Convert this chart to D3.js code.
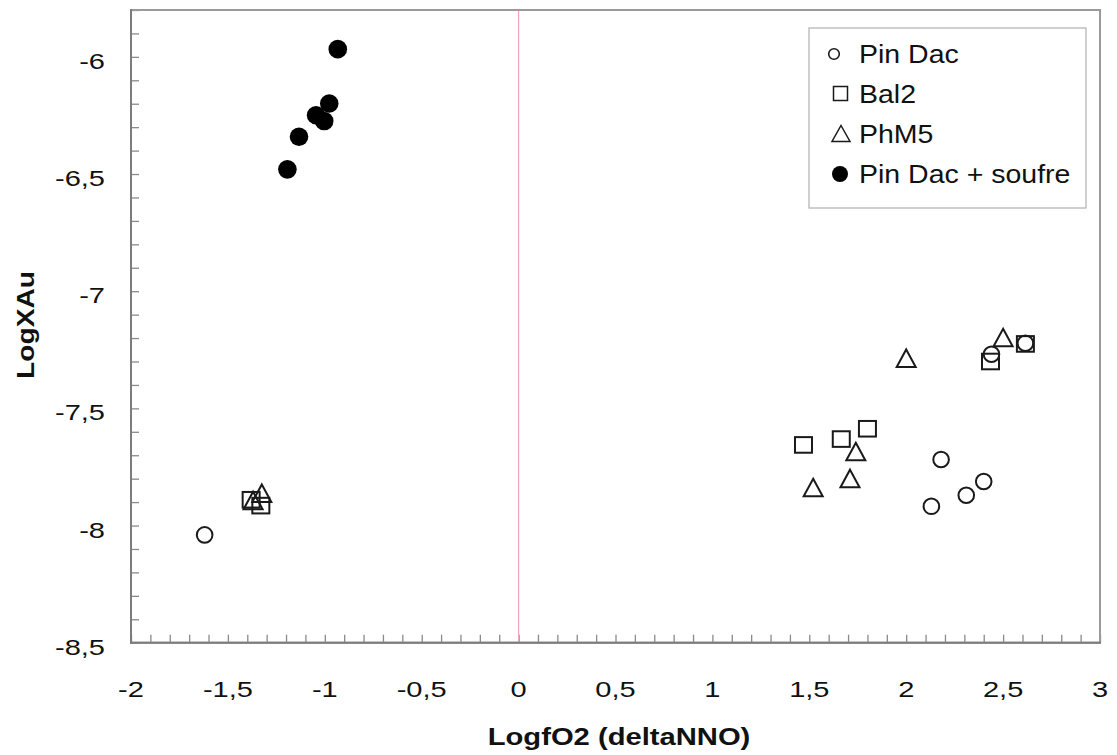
<!DOCTYPE html>
<html><head><meta charset="utf-8">
<script src="https://cdn.jsdelivr.net/npm/d3@7"></script>
<style>body{margin:0;background:#fff;} text{font-family:"Liberation Sans",Arial,sans-serif;fill:#111;}</style>
</head><body>
<svg id="c" width="1117" height="755"></svg>
<script>
// ---- data ----
const pinDacX = [-1.62, 2.18, 2.40, 2.31, 2.13, 2.44, 2.615];
const pinDacY = [-8.04, -7.718, -7.812, -7.871, -7.918, -7.269, -7.222];
const bal2X = [-1.38, -1.33, 1.47, 1.665, 1.80, 2.435, 2.615];
const bal2Y = [-7.89, -7.915, -7.656, -7.631, -7.587, -7.300, -7.225];
const phm5X = [-1.37, -1.325, 2.00, 2.50, 1.74, 1.71, 1.52];
const phm5Y = [-7.893, -7.862, -7.286, -7.198, -7.684, -7.799, -7.838];
const soufreX = [-0.933, -0.977, -1.045, -1.003, -1.133, -1.193];
const soufreY = [-5.967, -6.199, -6.249, -6.274, -6.341, -6.480];
const seriesNames = ["Pin Dac", "Bal2", "PhM5", "Pin Dac + soufre"];
const xTicks = [-2, -1.5, -1, -0.5, 0, 0.5, 1, 1.5, 2, 2.5, 3];
const yTicks = [-6, -6.5, -7, -7.5, -8, -8.5];
const xTitle = "LogfO2 (deltaNNO)";
const yTitle = "LogXAu";

// ---- layout ----
const svg = d3.select("#c");
const L = 131, R = 1100, T = 10, B = 642.7;
const x = d3.scaleLinear().domain([-2, 3]).range([L, R]);
const y = d3.scaleLinear().domain([-8.5, -5.8]).range([B, T]);
const loc = d3.formatLocale({decimal: ",", thousands: ".", grouping: [3], currency: ["", ""], minus: "-"});
const fmt = loc.format("~g");
const ink = "#1a1a1a";

// minor ticks
const xMinor = d3.range(-20, 31).map(i => i / 10);
const yMinor = d3.range(-85, -57).map(i => i / 10);
svg.append("g").attr("transform", `translate(0,${B})`)
  .call(d3.axisBottom(x).tickValues(xMinor).tickSize(-8).tickFormat(""))
  .call(g => g.select(".domain").remove())
  .selectAll("line").attr("stroke", "#8a8a8a").attr("stroke-width", 1.3);
svg.append("g").attr("transform", `translate(${L},0)`)
  .call(d3.axisLeft(y).tickValues(yMinor).tickSize(-8).tickFormat(""))
  .call(g => g.select(".domain").remove())
  .selectAll("line").attr("stroke", "#8a8a8a").attr("stroke-width", 1.3);

// zero line
svg.append("line").attr("x1", x(0)).attr("x2", x(0)).attr("y1", T).attr("y2", B)
  .attr("stroke", "#f2a6b4").attr("stroke-width", 1.2);

// frame
svg.append("rect").attr("x", L).attr("y", T).attr("width", R - L).attr("height", B - T)
  .attr("fill", "none").attr("stroke", "#9a9a9a").attr("stroke-width", 2);
svg.append("line").attr("x1", L).attr("x2", L).attr("y1", T - 1).attr("y2", B + 1).attr("stroke", "#7c7c7c").attr("stroke-width", 2);
svg.append("line").attr("x1", L - 1).attr("x2", R + 1).attr("y1", B).attr("y2", B).attr("stroke", "#7c7c7c").attr("stroke-width", 2);

// tick labels
svg.append("g").selectAll("text").data(xTicks).join("text")
  .attr("transform", d => `translate(${x(d)},697) scale(1.32,1)`)
  .attr("text-anchor", "middle").attr("font-size", 22).text(d => fmt(d));
svg.append("g").selectAll("text").data(yTicks).join("text")
  .attr("transform", d => `translate(105,${y(d) + 12}) scale(1.32,1)`)
  .attr("text-anchor", "end").attr("font-size", 22).text(d => fmt(d));

// axis titles
svg.append("text").attr("transform", "translate(619,745) scale(1.27,1)")
  .attr("text-anchor", "middle").attr("font-size", 23).attr("font-weight", "bold").text(xTitle);
svg.append("text").attr("transform", "translate(34,325) rotate(-90) scale(1.2,1)")
  .attr("text-anchor", "middle").attr("font-size", 23.5).attr("font-weight", "bold").text(yTitle);

// markers
const tri = (w, h) => `M0,${-h/2}L${w/2},${h/2}L${-w/2},${h/2}Z`;
const pts = (xs, ys) => xs.map((v, i) => [v, ys[i]]);
const gP = svg.append("g");
gP.selectAll(".sq").data(pts(bal2X, bal2Y)).join("rect")
  .attr("x", d => x(d[0]) - 8.5).attr("y", d => y(d[1]) - 7.8).attr("width", 17).attr("height", 15.6)
  .attr("fill", "none").attr("stroke", ink).attr("stroke-width", 2);
gP.selectAll(".tr").data(pts(phm5X, phm5Y)).join("path")
  .attr("transform", d => `translate(${x(d[0])},${y(d[1])})`).attr("d", tri(19, 17.5))
  .attr("fill", "none").attr("stroke", ink).attr("stroke-width", 2);
gP.selectAll(".ci").data(pts(pinDacX, pinDacY)).join("circle")
  .attr("cx", d => x(d[0])).attr("cy", d => y(d[1])).attr("r", 7.8)
  .attr("fill", "none").attr("stroke", ink).attr("stroke-width", 2);
gP.selectAll(".fc").data(pts(soufreX, soufreY)).join("circle")
  .attr("cx", d => x(d[0])).attr("cy", d => y(d[1])).attr("r", 9.3)
  .attr("fill", "#000");

// legend
const lg = svg.append("g");
lg.append("rect").attr("x", 809).attr("y", 28).attr("width", 277).attr("height", 180)
  .attr("fill", "#fff").attr("stroke", "#b0b0b0").attr("stroke-width", 1.2);
const lgY = [63, 103, 143, 183];
lg.selectAll("text").data(seriesNames).join("text")
  .attr("transform", (d, i) => `translate(859,${lgY[i]}) scale(1.14,1)`)
  .attr("font-size", 25).text(d => d);
lg.append("circle").attr("cx", 834).attr("cy", 54).attr("r", 5.3).attr("fill", "none").attr("stroke", ink).attr("stroke-width", 1.6);
lg.append("rect").attr("x", 833.5).attr("y", 86.5).attr("width", 14).attr("height", 14).attr("fill", "none").attr("stroke", ink).attr("stroke-width", 1.5);
lg.append("path").attr("transform", "translate(841,133.5)").attr("d", tri(18, 16)).attr("fill", "none").attr("stroke", ink).attr("stroke-width", 1.5);
lg.append("circle").attr("cx", 840).attr("cy", 174).attr("r", 8).attr("fill", "#000");
</script>
</body></html>
